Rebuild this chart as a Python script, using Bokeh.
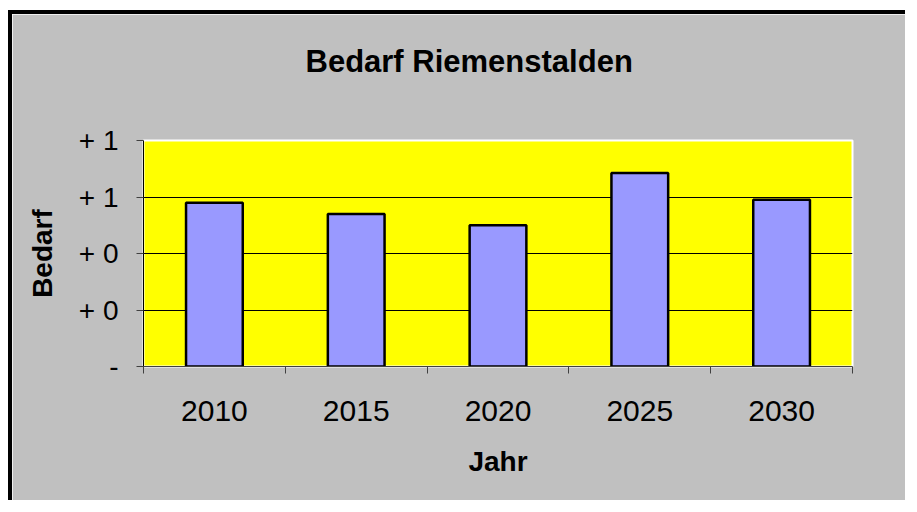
from bokeh.plotting import figure
from bokeh.models import FixedTicker, Title, Range1d, LinearAxis
from bokeh.layouts import column
from bokeh.embed import file_html
from bokeh.resources import INLINE

# ---- data ----
years = ["2010", "2015", "2020", "2025", "2030"]
bedarf = [0.58, 0.54, 0.50, 0.685, 0.59]
y_ticks = [0.0, 0.2, 0.4, 0.6, 0.8]
y_tick_labels = ["-", "+ 0", "+ 0", "+ 1", "+ 1"]
title_text = "Bedarf Riemenstalden"
x_label = "Jahr"
y_label = "Bedarf"

FONT = "Liberation Sans"

x_pos = [i + 0.5 for i in range(len(years))]
x_edges = [float(i) for i in range(len(years) + 1)]

p = figure(width=897, height=490, output_backend="svg", toolbar_location=None,
           x_range=Range1d(0, len(years)), y_range=Range1d(y_ticks[0], y_ticks[-1]),
           min_border_left=131, min_border_right=57,
           min_border_top=126, min_border_bottom=138, title=None)

p.styles = {"border-left": "4px solid black", "border-top": "4px solid black"}

p.background_fill_color = "#FFFF00"
p.border_fill_color = "#C0C0C0"
p.outline_line_color = "white"
p.outline_line_width = 2

p.vbar(x=x_pos, top=bedarf, width=0.4, fill_color="#9999FF",
       line_color="black", line_width=2.5)

# x axis (below)
xa = p.below[0]
xa.ticker = FixedTicker(ticks=x_pos, minor_ticks=x_edges)
xa.major_label_overrides = {x: y for x, y in zip(x_pos, years)}
xa.major_tick_line_color = None
xa.major_tick_in = 0
xa.major_tick_out = 7
xa.minor_tick_in = 0
xa.minor_tick_out = 7
xa.minor_tick_line_color = "#404040"
xa.axis_line_color = "#404040"
xa.major_label_text_font = FONT
xa.major_label_text_font_size = "30px"
xa.major_label_text_color = "black"
xa.major_label_standoff = 27
xa.axis_label = x_label
xa.axis_label_text_font = FONT
xa.axis_label_text_font_size = "28px"
xa.axis_label_text_font_style = "bold"
xa.axis_label_text_color = "black"
xa.axis_label_standoff = 22

# y axis
ya = p.left[0]
ya.ticker = FixedTicker(ticks=y_ticks)
ya.major_label_overrides = {v: s for v, s in zip(y_ticks, y_tick_labels)}
ya.minor_tick_line_color = None
ya.major_tick_in = 0
ya.major_tick_out = 7
ya.major_tick_line_color = "#404040"
ya.axis_line_color = "black"
ya.major_label_text_font = FONT
ya.major_label_text_font_size = "28px"
ya.major_label_text_color = "black"
ya.major_label_standoff = 18
ya.axis_label = y_label
ya.axis_label_text_font = FONT
ya.axis_label_text_font_size = "28px"
ya.axis_label_text_font_style = "bold"
ya.axis_label_text_color = "black"
ya.axis_label_standoff = 18

p.xgrid.grid_line_color = None
p.ygrid.ticker = FixedTicker(ticks=y_ticks[1:-1])
p.ygrid.grid_line_color = "black"
p.ygrid.grid_line_width = 1

# invisible spacer between frame and title (added first: closest to frame)
mid = len(years) / 2
spacer = LinearAxis(ticker=FixedTicker(ticks=[mid]), major_tick_in=0, major_tick_out=57,
                    minor_tick_in=0, minor_tick_out=0, axis_line_color=None,
                    major_tick_line_color=None, minor_tick_line_color=None,
                    major_label_overrides={mid: ""}, major_label_text_font_size="1px",
                    major_label_standoff=0, axis_label_standoff=0)
p.add_layout(spacer, "above")

# title (added after spacer: sits above it)
t = Title(text=title_text, align="left", text_font=FONT, text_font_size="31px",
          text_font_style="bold", text_color="black", standoff=10, offset=162)
p.add_layout(t, "above")

root = column(p, styles={"padding-left": "8px", "padding-top": "10px",
                         "background-color": "white"})

open("out.html", "w").write(file_html(root, INLINE))
